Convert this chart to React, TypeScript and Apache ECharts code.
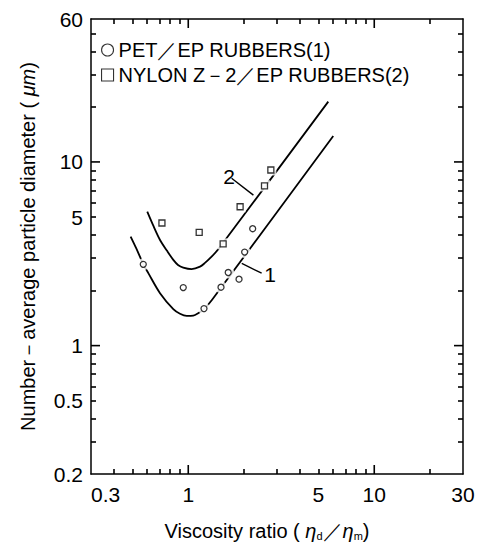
import React, { useEffect, useRef } from "react";
import * as echarts from "echarts";

// Measured particle diameters (μm) against viscosity ratio ηd/ηm
const petRatio = [0.573, 0.94, 1.215, 1.5, 1.64, 1.875, 2.01, 2.22];
const petDiameter = [2.77, 2.07, 1.59, 2.08, 2.5, 2.3, 3.23, 4.33];
const nylonRatio = [0.722, 1.145, 1.54, 1.9, 2.57, 2.78];
const nylonDiameter = [4.65, 4.13, 3.58, 5.7, 7.41, 9.04];

// Trend curves (1) and (2)
const petCurveRatio = [0.49, 0.524, 0.573, 0.61, 0.705, 0.831, 0.903, 0.981, 1.064, 1.13, 1.215, 1.34, 6.02];
const petCurveDiameter = [3.92, 3.4, 2.78, 2.48, 1.93, 1.58, 1.49, 1.45, 1.456, 1.5, 1.58, 1.77, 13.85];
const nylonCurveRatio = [0.602, 0.646, 0.705, 0.769, 0.831, 0.881, 0.94, 1.043, 1.157, 1.23, 1.31, 1.45, 5.66];
const nylonCurveDiameter = [5.36, 4.54, 3.76, 3.28, 2.93, 2.75, 2.66, 2.61, 2.69, 2.82, 2.99, 3.35, 21.3];

// Curve tags with their leader lines: [label, start, end]
const curveTags: [string, [number, number], [number, number]][] = [
  ["1", [2.48, 2.48], [1.94, 2.8]],
  ["2", [1.71, 8.15], [2.24, 6.6]],
];

// Axis ticks
const xLabelTicks = [0.3, 1, 5, 10, 30];
const xMajorTicks = [1, 10];
const xMinorTicks = [0.4, 0.5, 0.6, 0.7, 0.8, 0.9, 2, 3, 4, 5, 6, 7, 8, 9, 20];
const yLabelTicks = [0.2, 0.5, 1, 5, 10, 60];
const yMajorTicks = [1, 10];
const yMinorTicks = [0.3, 0.4, 0.5, 0.6, 0.7, 0.8, 0.9, 2, 3, 4, 5, 6, 7, 8, 9, 20, 30, 40, 50];

const PET = "PET／EP RUBBERS(1)";
const NYLON = "NYLON Z－2／EP RUBBERS(2)";
const FONT = "'Liberation Sans', Arial, Helvetica, sans-serif";

const lg = (v: number) => Math.log10(v);
const pairs = (xs: number[], ys: number[]) => xs.map((x, i) => [lg(x), lg(ys[i])]);
const labelFor = (ticks: number[]) => (v: number) => {
  const t = ticks.find((t) => Math.abs(lg(t) - v) < 1e-4);
  return t === undefined ? "" : String(t);
};

const X_MIN = lg(0.3);
const X_MAX = lg(30);
const Y_MIN = lg(0.2);
const Y_MAX = lg(60);

const TICK_W = 1.6;
const MINOR_LEN = 5;
const MAJOR_LEN = 9;

// One edge of the frame: its line and the inward minor ticks
function frameAxis(min: number, max: number, position: string, ticks: number[], extra: Record<string, unknown> = {}) {
  return {
    type: "value",
    min,
    max,
    position,
    axisLine: { show: true, onZero: false, lineStyle: { color: "#000", width: 1.5 } },
    axisTick: {
      show: true,
      inside: true,
      length: MINOR_LEN,
      customValues: ticks.map(lg),
      lineStyle: { color: "#000", width: TICK_W },
    },
    axisLabel: { show: false },
    splitLine: { show: false },
    ...extra,
  };
}

// Longer decade ticks on one edge, placed through the axis scale
function majorTicks(edge: "bottom" | "top" | "left" | "right", ticks: number[]) {
  const alongX = edge === "bottom" || edge === "top";
  return {
    type: "custom",
    coordinateSystem: "cartesian2d",
    z: 5,
    data: ticks.map((t) => (alongX ? [lg(t), Y_MIN] : [X_MIN, lg(t)])),
    renderItem: (params: any, api: any) => {
      const cs = params.coordSys;
      const p = api.coord([api.value(0), api.value(1)]);
      const style = { stroke: "#000", lineWidth: TICK_W };
      const bottom = cs.y + cs.height;
      const right = cs.x + cs.width;
      const shape =
        edge === "bottom"
          ? { x1: p[0], y1: bottom, x2: p[0], y2: bottom - MAJOR_LEN }
          : edge === "top"
          ? { x1: p[0], y1: cs.y, x2: p[0], y2: cs.y + MAJOR_LEN }
          : edge === "left"
          ? { x1: cs.x, y1: p[1], x2: cs.x + MAJOR_LEN, y2: p[1] }
          : { x1: right, y1: p[1], x2: right - MAJOR_LEN, y2: p[1] };
      return { type: "line", shape, style };
    },
  };
}

function buildOption() {
  const textBase = { color: "#000", fontFamily: FONT };
  const markerStyle = { color: "#fff", borderColor: "#000", borderWidth: 1.3 };
  const lineStyle = { color: "#000", width: 1.8 };

  const tagLine = (tag: [string, [number, number], [number, number]]) => ({
    silent: true,
    symbol: ["none", "none"],
    lineStyle: { color: "#000", width: 1.4, type: "solid" },
    label: { show: true, position: "start", formatter: tag[0], fontSize: 21, distance: 3, ...textBase },
    emphasis: { disabled: true },
    data: [[{ coord: [lg(tag[1][0]), lg(tag[1][1])] }, { coord: [lg(tag[2][0]), lg(tag[2][1])] }]],
  });

  return {
    animation: false,
    backgroundColor: "#fff",
    grid: { left: 91, right: 19, top: 19, bottom: 73, containLabel: false },
    legend: {
      orient: "vertical",
      left: 96,
      top: 35,
      itemWidth: 12,
      itemHeight: 12,
      itemGap: 5,
      selectedMode: false,
      textStyle: { fontSize: 20, ...textBase },
      itemStyle: { color: "#fff", borderColor: "#000", borderWidth: 1.1 },
      data: [
        { name: PET, icon: "circle" },
        { name: NYLON, icon: "rect" },
      ],
    },
    xAxis: [
      frameAxis(X_MIN, X_MAX, "bottom", xMinorTicks, {
        name: "Viscosity ratio ( {e|η}{s|d}／{e|η}{s|m})",
        nameLocation: "middle",
        nameGap: 47,
        nameTextStyle: {
          fontSize: 20,
          padding: [0, 20, 0, 0],
          ...textBase,
          rich: {
            e: { fontSize: 20, fontStyle: "italic", ...textBase },
            s: { fontSize: 11, verticalAlign: "bottom", lineHeight: 11, ...textBase },
          },
        },
        axisLabel: {
          show: true,
          customValues: xLabelTicks.map(lg),
          formatter: labelFor(xLabelTicks),
          margin: 10,
          fontSize: 21,
          alignMinLabel: "left",
          ...textBase,
        },
      }),
      frameAxis(X_MIN, X_MAX, "top", xMinorTicks),
    ],
    yAxis: [
      frameAxis(Y_MIN, Y_MAX, "left", yMinorTicks, {
        name: "Number－average particle diameter ( {e|μm})",
        nameLocation: "middle",
        nameGap: 53,
        nameRotate: 90,
        nameTextStyle: {
          fontSize: 20,
          ...textBase,
          rich: { e: { fontSize: 20, fontStyle: "italic", ...textBase } },
        },
        axisLabel: {
          show: true,
          customValues: yLabelTicks.map(lg),
          formatter: labelFor(yLabelTicks),
          margin: 8,
          fontSize: 21,
          ...textBase,
        },
      }),
      frameAxis(Y_MIN, Y_MAX, "right", yMinorTicks),
    ],
    series: [
      majorTicks("bottom", xMajorTicks),
      majorTicks("top", xMajorTicks),
      majorTicks("left", yMajorTicks),
      majorTicks("right", yMajorTicks),
      {
        name: "curve 1",
        type: "line",
        data: pairs(petCurveRatio, petCurveDiameter),
        symbol: "none",
        smooth: 0.3,
        lineStyle,
        z: 2,
        markLine: tagLine(curveTags[0]),
      },
      {
        name: "curve 2",
        type: "line",
        data: pairs(nylonCurveRatio, nylonCurveDiameter),
        symbol: "none",
        smooth: 0.3,
        lineStyle,
        z: 2,
        markLine: tagLine(curveTags[1]),
      },
      // white halos that open the curves around each marker
      {
        name: "halo 1",
        type: "scatter",
        data: pairs(petRatio, petDiameter),
        symbol: "circle",
        symbolSize: 12,
        itemStyle: { color: "#fff" },
        silent: true,
        z: 3,
      },
      {
        name: "halo 2",
        type: "scatter",
        data: pairs(nylonRatio, nylonDiameter),
        symbol: "rect",
        symbolSize: 11,
        itemStyle: { color: "#fff" },
        silent: true,
        z: 3,
      },
      {
        name: PET,
        type: "scatter",
        data: pairs(petRatio, petDiameter),
        symbol: "circle",
        symbolSize: 6,
        itemStyle: markerStyle,
        z: 4,
      },
      {
        name: NYLON,
        type: "scatter",
        data: pairs(nylonRatio, nylonDiameter),
        symbol: "rect",
        symbolSize: 6,
        itemStyle: markerStyle,
        z: 4,
      },
    ],
  };
}

export default function App() {
  const ref = useRef<HTMLDivElement>(null);
  useEffect(() => {
    if (!ref.current) return;
    const chart = echarts.init(ref.current, null, { renderer: "svg" });
    chart.setOption(buildOption() as any);
    return () => chart.dispose();
  }, []);
  return (
    <div
      ref={ref}
      style={{ position: "fixed", left: 0, top: 0, width: 482, height: 547, background: "#fff" }}
    />
  );
}
